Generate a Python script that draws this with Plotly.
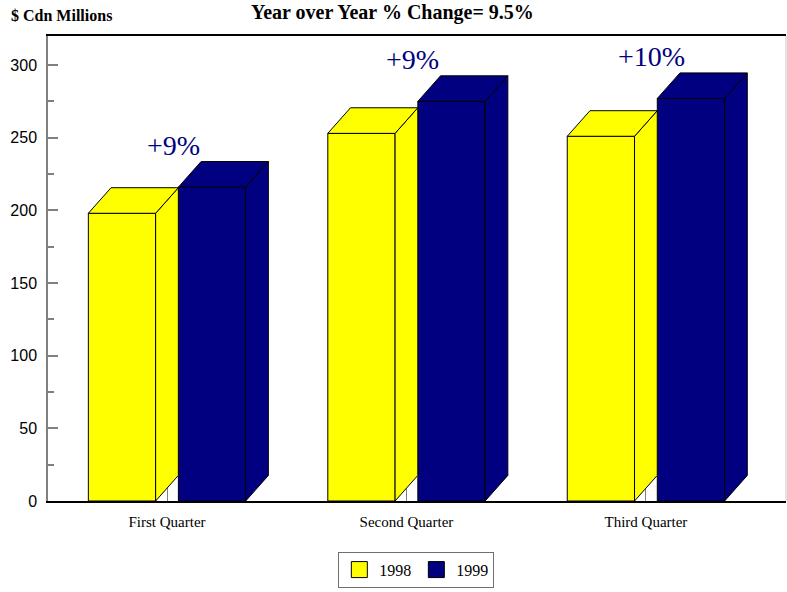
import plotly.graph_objects as go

# ---- data ----
categories = ["First Quarter", "Second Quarter", "Third Quarter"]
series_names = ["1998", "1999"]
values_1998 = [198, 253, 251]
values_1999 = [216, 275, 277]
change_labels = ["+9%", "+9%", "+10%"]
y_tick_values = [0, 50, 100, 150, 200, 250, 300]
title_text = "Year over Year % Change= 9.5%"
y_title_text = "$ Cdn Millions"

# ---- styles / geometry (not data) ----
colors = {"1998": "#FFFF00", "1999": "#000080"}
BAR_W = 0.281      # bar width in category units
OFFSET = 0.188     # offset of each bar from category centre
DX = 0.0948        # 3D depth, x (category units)
DY = 17.6          # 3D depth, y (value units)
SERIF = "Liberation Serif, Times New Roman, serif"
SANS = "Liberation Sans, Arial, sans-serif"

fig = go.Figure()

series = [("1998", values_1998, -OFFSET), ("1999", values_1999, OFFSET)]
xs_idx = list(range(len(categories)))

# front faces
for name, vals, off in series:
    fig.add_trace(go.Bar(
        x=[i + off for i in xs_idx], y=vals, width=BAR_W, name=name,
        marker=dict(color=colors[name], line=dict(color="black", width=1)),
        showlegend=False, hoverinfo="skip"))

# side and top faces (computed from values)
for i in xs_idx:
    for name, vals, off in series:
        xl = i + off - BAR_W / 2
        xr = i + off + BAR_W / 2
        h = vals[i]
        side_x = [xr, xr + DX, xr + DX, xr, xr]
        side_y = [0, DY, h + DY, h, 0]
        top_x = [xl, xr, xr + DX, xl + DX, xl]
        top_y = [h, h, h + DY, h + DY, h]
        for fx, fy in ((side_x, side_y), (top_x, top_y)):
            fig.add_trace(go.Scatter(
                x=fx, y=fy, mode="lines", fill="toself",
                fillcolor=colors[name], line=dict(color="black", width=1),
                showlegend=False, hoverinfo="skip"))

# legend entries
for name in series_names:
    fig.add_trace(go.Scatter(
        x=[None], y=[None], mode="markers", name=name,
        marker=dict(symbol="square", size=16, color=colors[name],
                    line=dict(color="black", width=1))))

# change labels above groups
for i, lab in enumerate(change_labels):
    fig.add_annotation(
        x=i + 0.025, y=values_1999[i] + DY + 11, text=lab, showarrow=False,
        xanchor="center", yanchor="middle",
        font=dict(family=SERIF, size=28, color="#000080"))

# title and unit label
fig.add_annotation(
    xref="paper", yref="paper", x=0.4667, y=1.0495, text="<b>" + title_text + "</b>",
    showarrow=False, xanchor="center", yanchor="middle",
    font=dict(family=SERIF, size=20, color="black"))
fig.add_annotation(
    xref="paper", yref="paper", x=-0.053, y=1.0445, text="<b>" + y_title_text + "</b>",
    showarrow=False, xanchor="left", yanchor="middle",
    font=dict(family=SERIF, size=16, color="black"))

# right border of frame
fig.add_shape(type="line", xref="paper", yref="paper", x0=1, x1=1, y0=0, y1=1,
              line=dict(color="#d8d8d8", width=1.5))

fig.update_layout(
    width=787, height=592,
    margin=dict(l=48, r=1, t=36, b=91),
    paper_bgcolor="white", plot_bgcolor="white",
    barmode="overlay", showlegend=True,
    legend=dict(orientation="h", x=0.3934, xanchor="left", y=-0.109, yanchor="top",
                bordercolor="#707070", borderwidth=1, bgcolor="white",
                font=dict(family=SERIF, size=16, color="black")),
    xaxis=dict(range=[-0.497, 2.585], tickmode="array", tickvals=xs_idx, ticktext=categories,
               ticks="inside", ticklen=20, tickcolor="#808080", tickwidth=1,
               showline=True, linecolor="black", linewidth=1.5, mirror=True,
               layer="below traces", showgrid=False, zeroline=False, ticklabelstandoff=6,
               tickfont=dict(family=SERIF, size=15, color="black")),
    yaxis=dict(range=[0, 320], tickmode="array", tickvals=y_tick_values,
               ticks="inside", ticklen=10, tickcolor="#808080", tickwidth=1.5,
               minor=dict(ticks="inside", ticklen=6, tickcolor="#808080", tickwidth=1.5,
                          dtick=25, tick0=0, showgrid=False),
               showline=True, linecolor="#808080", linewidth=1.5,
               showgrid=False, zeroline=False, ticklabelstandoff=6,
               tickfont=dict(family=SANS, size=16, color="black")),
)

fig.write_html("out.html")
